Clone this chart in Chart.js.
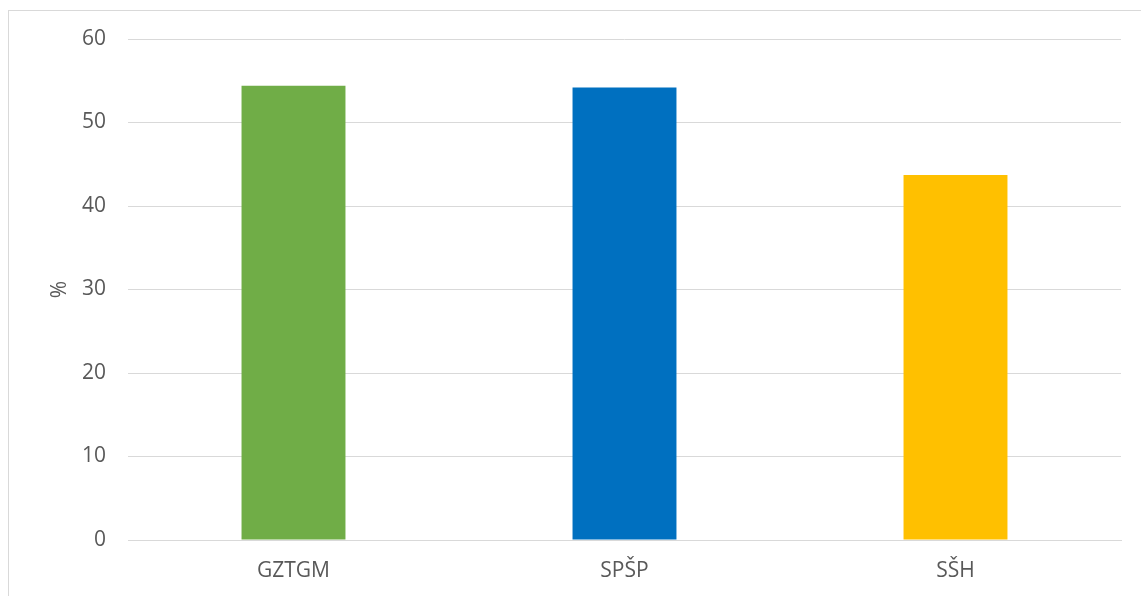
<!DOCTYPE html>
<html>
<head>
<meta charset="utf-8">
<script src="https://cdn.jsdelivr.net/npm/chart.js@4/dist/chart.umd.min.js"></script>
<style>
  html, body { margin: 0; padding: 0; background: #fff; }
  #wrap { position: relative; width: 1141px; height: 596px; overflow: hidden; }
  #frame {
    position: absolute; left: 8px; top: 10px;
    width: 1200px; height: 700px;
    border-left: 1px solid #d9d9d9; border-top: 1px solid #d9d9d9;
  }
  #c-chart { position: absolute; left: 0; top: 0; }
</style>
</head>
<body>
<div id="wrap">
  <div id="frame"></div>
  <canvas id="c-chart" width="1141" height="596"></canvas>
</div>
<script>
const schools = ["GZTGM", "SPŠP", "SŠH"];
const shares = [54.4, 54.2, 43.7];
const barColors = ["#70ad47", "#0070c0", "#ffc000"];
const yTicks = [0, 10, 20, 30, 40, 50, 60];

const textGrey = "#595959";
const gridGrey = "#d9d9d9";
const fontFamily = "'Open Sans', sans-serif";

const ctx = document.getElementById("c-chart");

//Bar chart data.
const info = {
  labels: schools,
  datasets: [
    {
      data: shares,
      backgroundColor: barColors,
      borderWidth: 0,
      categoryPercentage: 1,
      barPercentage: 0.314,
    },
  ],
};

const options = {
  responsive: false,
  animation: false,
  layout: {
    padding: { left: 0, right: 20, top: 39, bottom: 0 },
  },
  plugins: {
    legend: { display: false },
    tooltip: { enabled: false },
  },
  scales: {
    x: {
      grid: { display: false, drawTicks: false },
      border: { color: gridGrey, width: 1 },
      ticks: {
        color: textGrey,
        padding: 18,
        font: { family: fontFamily, size: 21 },
      },
      afterFit: (scale) => {
        scale.height = 56;
      },
    },
    y: {
      min: 0,
      max: 60,
      afterBuildTicks: (scale) => {
        scale.ticks = yTicks.map((v) => ({ value: v }));
      },
      grid: { color: gridGrey, lineWidth: 1, drawTicks: false },
      border: { display: false },
      ticks: {
        color: textGrey,
        padding: 22,
        font: { family: fontFamily, size: 21 },
      },
      title: {
        display: true,
        text: "%",
        color: textGrey,
        padding: { top: 47, bottom: 0 },
        font: { family: fontFamily, size: 21 },
      },
      afterFit: (scale) => {
        scale.width = 128;
      },
    },
  },
};

new Chart(ctx, {
  type: "bar",
  data: info,
  options: options,
});
</script>
</body>
</html>
